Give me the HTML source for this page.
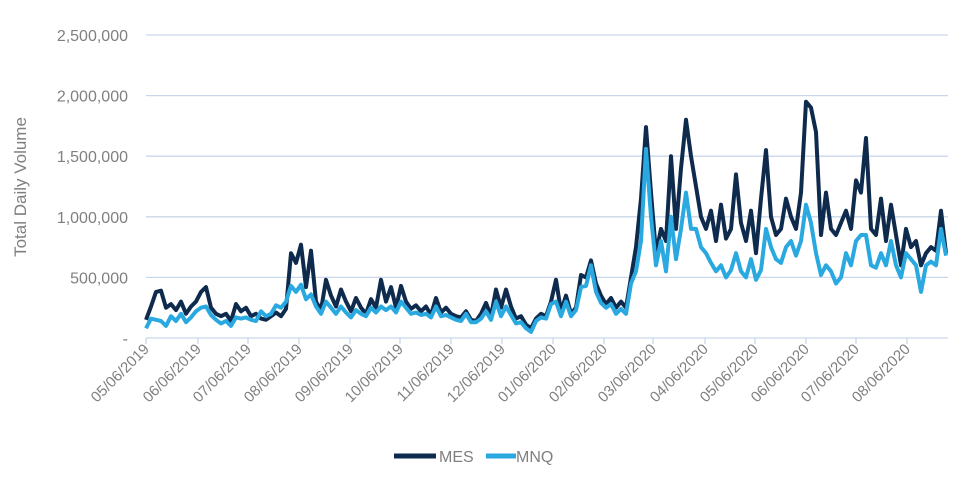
<!DOCTYPE html>
<html><head><meta charset="utf-8"><style>
body{margin:0;background:#fff;font-family:"Liberation Sans",Arial,sans-serif}
svg text{font-family:"Liberation Sans",Arial,sans-serif;fill:#7f7f7f}
</style></head><body>
<svg id="chart" width="975" height="497">
<g id="grid"></g><g id="yticks"></g><g id="xticks"></g><g id="lines"></g>
<text transform="translate(26,187) rotate(-90)" text-anchor="middle" font-size="17">Total Daily Volume</text>
<g>
<g><line x1="394" y1="456" x2="436" y2="456" stroke="#0e2a4d" stroke-width="5"/><text x="439" y="462" font-size="16">MES</text></g>
<g><line x1="486" y1="456" x2="516" y2="456" stroke="#29a9e0" stroke-width="5"/><text x="516" y="462" font-size="16">MNQ</text></g>
</g>
</svg>
<script>
const yTicks=[0,500000,1000000,1500000,2000000,2500000];
const yTickLabels=["-","500,000","1,000,000","1,500,000","2,000,000","2,500,000"];
const xTickLabels=["05/06/2019","06/06/2019","07/06/2019","08/06/2019","09/06/2019","10/06/2019","11/06/2019","12/06/2019","01/06/2020","02/06/2020","03/06/2020","04/06/2020","05/06/2020","06/06/2020","07/06/2020","08/06/2020"];
const xTickIdx=[0,10.4,20.4,30.6,40.8,50.8,61,71.2,81.4,91.6,101.4,111.8,121.8,132,142,152.2];
const mes=[150,260,380,390,250,280,230,300,200,260,300,380,420,250,200,180,200,140,280,220,250,180,200,160,150,180,210,180,240,700,620,770,420,720,300,230,480,350,260,400,300,220,330,250,200,320,250,480,300,420,250,430,300,240,270,220,260,190,330,210,250,200,180,170,220,150,140,200,290,180,400,250,400,260,160,180,110,80,160,200,180,300,480,220,350,200,250,520,500,640,450,350,280,330,250,300,250,500,750,1150,1740,1200,700,900,800,1500,900,1400,1800,1500,1250,1000,900,1050,800,1100,820,900,1350,950,800,1050,700,1150,1550,1000,850,900,1150,1000,900,1200,1950,1900,1700,850,1200,900,850,950,1050,900,1300,1200,1650,900,850,1150,800,1100,850,600,900,750,800,600,700,750,720,1050,700];
const mnq=[80,160,150,140,100,180,140,200,130,170,220,250,260,190,150,120,140,100,170,160,170,150,140,220,180,200,270,250,300,430,380,440,320,360,260,200,300,250,200,260,210,170,230,200,180,250,210,260,230,260,210,300,250,200,210,190,200,170,260,180,190,170,150,140,200,130,130,160,220,150,300,180,260,190,120,130,80,50,140,170,160,280,300,180,300,180,230,420,430,600,380,290,250,280,200,240,200,450,550,800,1560,1000,600,800,550,1000,650,900,1200,900,900,750,700,620,550,600,500,560,700,550,500,650,480,560,900,750,650,620,750,800,680,800,1100,950,700,520,600,550,450,500,700,600,800,850,850,600,580,700,600,800,600,500,700,650,600,380,600,630,600,900,680];
const NS='http://www.w3.org/2000/svg';
const X0=146,X1=946,Y0=338,Y1=35;
const N=mes.length;
const xs=i=>X0+(X1-X0)*i/(N-1);
const ys=v=>Y0-(Y0-Y1)*v/2500000;
function mk(t,a,p){const e=document.createElementNS(NS,t);for(const k in a)e.setAttribute(k,a[k]);p.appendChild(e);return e;}
const grid=document.getElementById('grid'),yt=document.getElementById('yticks'),xt=document.getElementById('xticks'),lg=document.getElementById('lines');
yTicks.forEach((v,i)=>{
 if(i>0){const l=mk('line',{x1:X0,x2:948,y1:ys(v),y2:ys(v),stroke:'#c9d7ea','stroke-width':1.3},grid);
 
 }
 const t=mk('text',{x:128,y:ys(v)+6,'text-anchor':'end','font-size':16},yt);
 t.textContent=yTickLabels[i];
 
 
});
const ax=mk('line',{x1:X0,x2:948,y1:Y0,y2:Y0,stroke:'#c9d7ea','stroke-width':1.3},grid);


xTickLabels.forEach((s,i)=>{
 const x=xs(xTickIdx[i]);
 const tk=mk('line',{x1:x,x2:x,y1:Y0,y2:Y0+6,stroke:'#c9d7ea','stroke-width':1.3},xt);
 
 
 const t=mk('text',{transform:`translate(${x+4},${Y0+12}) rotate(-45)`,'text-anchor':'end','font-size':15},xt);
 t.textContent=s;
 
 
});
function line(arr,col,name){
 const d=arr.map((v,i)=>(i?'L':'M')+xs(i).toFixed(1)+','+ys(v*1000).toFixed(1)).join('');
 const p=mk('path',{d:d,fill:'none',stroke:col,'stroke-width':4,'stroke-linejoin':'round'},lg);
 
 
}
line(mes,'#0e2a4d','series-mes');
line(mnq,'#29a9e0','series-mnq');
</script>
</body></html>
